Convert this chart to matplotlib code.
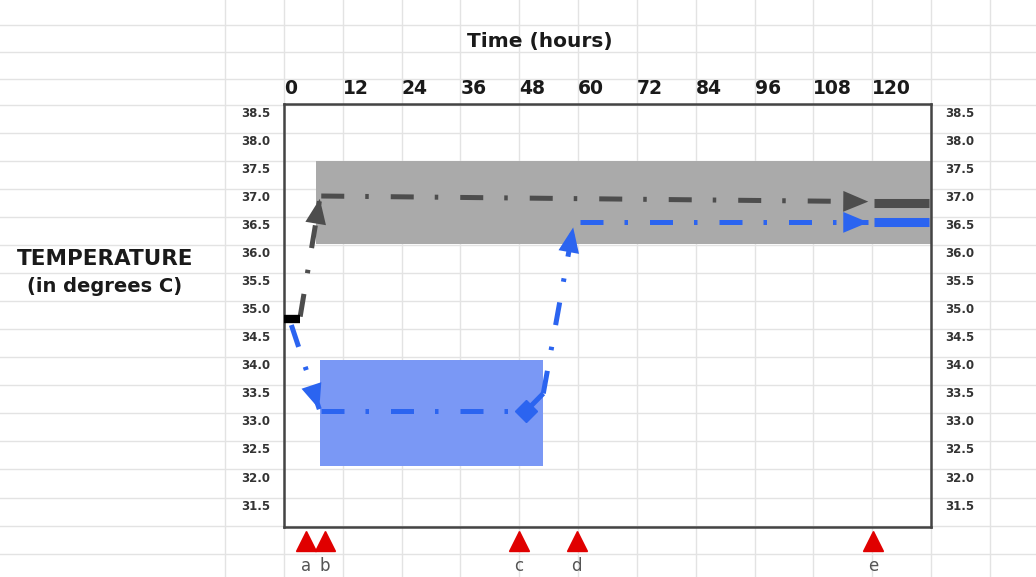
import numpy as np
import matplotlib
matplotlib.use("Agg")
import matplotlib.pyplot as plt
from matplotlib.transforms import ScaledTranslation

# ---- data ----
hour_ticks = [0, 12, 24, 36, 48, 60, 72, 84, 96, 108, 120]
temp_ticks = [31.5, 32.0, 32.5, 33.0, 33.5, 34.0, 34.5, 35.0, 35.5, 36.0, 36.5, 37.0, 37.5, 38.0, 38.5]

start_t = [0, 3.3]
start_v = [34.8, 34.8]

# normothermia (grey) path
gray_rise_t = [3.3, 7.3]
gray_rise_v = [34.85, 36.95]
gray_hold_t = [7.6, 119.2]
gray_hold_v = [37.0, 36.9]
gray_final_t = [120.3, 131.5]
gray_final_v = [36.88, 36.88]

# hypothermia (blue) path
blue_drop_t = [1.5, 7.2]
blue_drop_v = [34.7, 33.2]
blue_cool_t = [7.6, 49.4]
blue_cool_v = [33.17, 33.17]
blue_rewarm_t = [49.4, 52.9, 59.0]
blue_rewarm_v = [33.17, 33.48, 36.44]
blue_hold_t = [60.3, 119.2]
blue_hold_v = [36.53, 36.53]
blue_final_t = [120.3, 131.5]
blue_final_v = [36.54, 36.54]

# target ranges (t0, t1, v0, v1)
normal_band = [6.6, 132, 36.15, 37.63]
cool_band = [7.4, 52.8, 32.18, 34.08]

event_t = [4.5, 8.3, 47.9, 59.7, 120.2]
event_labels = ['a', 'b', 'c', 'd', 'e']

XLIM = (0, 132)
YLIM = (31.1, 38.64)

GRAY = '#4d4d4d'
BLUE = '#2b64f0'
DASH = (4.6, 4.2, 0.7, 4.4)
GRID = '#e3e3e3'

fig = plt.figure(figsize=(10.36, 5.77), dpi=100)
W, H = 1036, 577
L, R, B, T = 284 / W, 931 / W, 50 / H, 473 / H

# spreadsheet grid behind everything, same data scale as the chart
bg = fig.add_axes([0, 0, 1, 1], zorder=-1)
sx = (XLIM[1] - XLIM[0]) / (R - L)
sy = (YLIM[1] - YLIM[0]) / (T - B)
bg.set_xlim(XLIM[0] - L * sx, XLIM[1] + (1 - R) * sx)
bg.set_ylim(YLIM[0] - B * sy, YLIM[1] + (1 - T) * sy)
for x in np.arange(-12, 145, 12):
    bg.axvline(x, color=GRID, lw=1.0)
rows = list(np.arange(30.625, 38.7, 0.5)) + [39.09, 39.56, 40.04]
for y in rows:
    bg.axhline(y, color=GRID, lw=1.0)
bg.axis('off')

ax = fig.add_axes([L, B, R - L, T - B])
ax.set_facecolor('none')
ax.set_xlim(*XLIM)
ax.set_ylim(*YLIM)

# target bands
ax.fill_between(normal_band[:2], normal_band[2], normal_band[3], color='#aaaaaa', lw=0, zorder=1)
ax.fill_between(cool_band[:2], cool_band[2], cool_band[3], color='#7a98f5', lw=0, zorder=1)


def dashed(t, v, color):
    ax.plot(t, v, color=color, lw=3.6, dashes=DASH, dash_capstyle='butt', zorder=3)


def head(t, v, color):
    ax.annotate('', xy=(t[-1], v[-1]), xytext=(t[-2], v[-2]),
                arrowprops=dict(arrowstyle='-|>,head_length=1.8,head_width=0.75',
                                mutation_scale=10, lw=0, color=color,
                                shrinkA=0, shrinkB=0), zorder=4)


dashed(gray_rise_t, gray_rise_v, GRAY)
head(gray_rise_t, gray_rise_v, GRAY)
dashed(gray_hold_t, gray_hold_v, GRAY)
head(gray_hold_t, gray_hold_v, GRAY)
ax.plot(gray_final_t, gray_final_v, color=GRAY, lw=6.5, solid_capstyle='butt', zorder=3)

dashed(blue_drop_t, blue_drop_v, BLUE)
head(blue_drop_t, blue_drop_v, BLUE)
dashed(blue_cool_t, blue_cool_v, BLUE)
ax.plot(blue_cool_t[-1], blue_cool_v[-1], marker='D', ms=11, color=BLUE, zorder=4)
ax.plot(blue_rewarm_t[:2], blue_rewarm_v[:2], color=BLUE, lw=3.6, solid_capstyle='butt', zorder=3)
dashed(blue_rewarm_t[1:], blue_rewarm_v[1:], BLUE)
head(blue_rewarm_t, blue_rewarm_v, BLUE)
dashed(blue_hold_t, blue_hold_v, BLUE)
head(blue_hold_t, blue_hold_v, BLUE)
ax.plot(blue_final_t, blue_final_v, color=BLUE, lw=6.5, solid_capstyle='butt', zorder=3)

ax.plot(start_t, start_v, color='black', lw=6, solid_capstyle='butt', zorder=5)

# event markers under the axis
trans = ax.get_xaxis_transform()
ax.plot(event_t, [-0.033] * len(event_t), ls='none', marker='^', ms=15,
        color='#e00000', transform=trans, clip_on=False)
for t, lab in zip(event_t, event_labels):
    ax.text(t, -0.092, lab, transform=trans, ha='center', va='center',
            fontsize=12, color='#555555')

# axes styling
for s in ax.spines.values():
    s.set_color('#444444')
    s.set_linewidth(1.8)

ax.xaxis.tick_top()
ax.set_xticks(hour_ticks)
ax.set_xticklabels([str(h) for h in hour_ticks], ha='left', fontsize=13.5,
                   fontweight='bold', color='#1a1a1a')
shift = ScaledTranslation(4 / 72, 0, fig.dpi_scale_trans)
for lab in ax.get_xticklabels():
    lab.set_transform(lab.get_transform() + shift)
ax.tick_params(axis='x', length=0, pad=4)

ax.set_yticks(temp_ticks)
ax.set_yticklabels([f'{v:.1f}' for v in temp_ticks], fontsize=8.5,
                   fontweight='bold', color='#333333')
ax.tick_params(axis='y', length=0, pad=10, labelleft=True, labelright=True)

fig.text(540 / W, 1 - 42 / H, 'Time (hours)', ha='center', va='center',
         fontsize=14.5, fontweight='bold', color='#1a1a1a')
fig.text(105 / W, 1 - 259 / H, 'TEMPERATURE', ha='center', va='center',
         fontsize=15.5, fontweight='bold', color='#1a1a1a')
fig.text(105 / W, 1 - 287 / H, '(in degrees C)', ha='center', va='center',
         fontsize=14, fontweight='bold', color='#1a1a1a')

fig.savefig('out.png', dpi=100)
